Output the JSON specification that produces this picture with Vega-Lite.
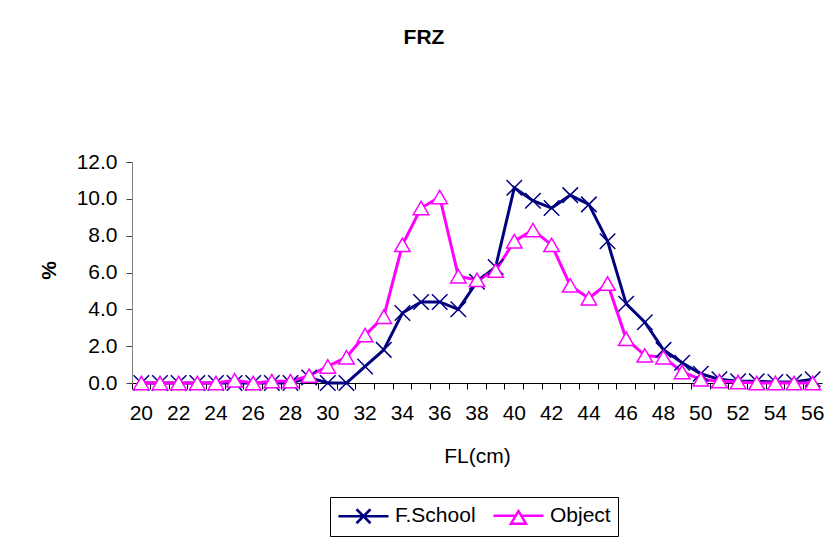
{
  "$schema": "https://vega.github.io/schema/vega-lite/v6.json",
  "width": 690,
  "height": 221,
  "autosize": {"type": "none"},
  "padding": {"left": 132, "top": 162, "right": 4, "bottom": 157},
  "background": "white",
  "title": {
    "text": "FRZ",
    "font": "Liberation Sans",
    "fontSize": 21,
    "fontWeight": "bold",
    "color": "black",
    "frame": "group",
    "anchor": "middle",
    "dx": -53,
    "offset": 86,
    "baseline": "alphabetic"
  },
  "config": {"view": {"stroke": null}, "font": "Liberation Sans"},
  "data": {
    "values": [
      {"FL": 20, "series": "F.School", "pct": 0.0}, {"FL": 20, "series": "Object", "pct": 0.0},
      {"FL": 21, "series": "F.School", "pct": 0.0}, {"FL": 21, "series": "Object", "pct": 0.0},
      {"FL": 22, "series": "F.School", "pct": 0.0}, {"FL": 22, "series": "Object", "pct": 0.0},
      {"FL": 23, "series": "F.School", "pct": 0.0}, {"FL": 23, "series": "Object", "pct": 0.0},
      {"FL": 24, "series": "F.School", "pct": 0.0}, {"FL": 24, "series": "Object", "pct": 0.0},
      {"FL": 25, "series": "F.School", "pct": 0.0}, {"FL": 25, "series": "Object", "pct": 0.15},
      {"FL": 26, "series": "F.School", "pct": 0.0}, {"FL": 26, "series": "Object", "pct": 0.0},
      {"FL": 27, "series": "F.School", "pct": 0.0}, {"FL": 27, "series": "Object", "pct": 0.1},
      {"FL": 28, "series": "F.School", "pct": 0.0}, {"FL": 28, "series": "Object", "pct": 0.1},
      {"FL": 29, "series": "F.School", "pct": 0.3}, {"FL": 29, "series": "Object", "pct": 0.4},
      {"FL": 30, "series": "F.School", "pct": 0.0}, {"FL": 30, "series": "Object", "pct": 0.9},
      {"FL": 31, "series": "F.School", "pct": 0.0}, {"FL": 31, "series": "Object", "pct": 1.4},
      {"FL": 32, "series": "F.School", "pct": 0.9}, {"FL": 32, "series": "Object", "pct": 2.6},
      {"FL": 33, "series": "F.School", "pct": 1.8}, {"FL": 33, "series": "Object", "pct": 3.6},
      {"FL": 34, "series": "F.School", "pct": 3.8}, {"FL": 34, "series": "Object", "pct": 7.5},
      {"FL": 35, "series": "F.School", "pct": 4.4}, {"FL": 35, "series": "Object", "pct": 9.5},
      {"FL": 36, "series": "F.School", "pct": 4.4}, {"FL": 36, "series": "Object", "pct": 10.1},
      {"FL": 37, "series": "F.School", "pct": 4.0}, {"FL": 37, "series": "Object", "pct": 5.8},
      {"FL": 38, "series": "F.School", "pct": 5.5}, {"FL": 38, "series": "Object", "pct": 5.6},
      {"FL": 39, "series": "F.School", "pct": 6.3}, {"FL": 39, "series": "Object", "pct": 6.1},
      {"FL": 40, "series": "F.School", "pct": 10.6}, {"FL": 40, "series": "Object", "pct": 7.7},
      {"FL": 41, "series": "F.School", "pct": 9.9}, {"FL": 41, "series": "Object", "pct": 8.3},
      {"FL": 42, "series": "F.School", "pct": 9.5}, {"FL": 42, "series": "Object", "pct": 7.5},
      {"FL": 43, "series": "F.School", "pct": 10.2}, {"FL": 43, "series": "Object", "pct": 5.3},
      {"FL": 44, "series": "F.School", "pct": 9.7}, {"FL": 44, "series": "Object", "pct": 4.6},
      {"FL": 45, "series": "F.School", "pct": 7.7}, {"FL": 45, "series": "Object", "pct": 5.4},
      {"FL": 46, "series": "F.School", "pct": 4.3}, {"FL": 46, "series": "Object", "pct": 2.4},
      {"FL": 47, "series": "F.School", "pct": 3.3}, {"FL": 47, "series": "Object", "pct": 1.5},
      {"FL": 48, "series": "F.School", "pct": 1.8}, {"FL": 48, "series": "Object", "pct": 1.4},
      {"FL": 49, "series": "F.School", "pct": 1.1}, {"FL": 49, "series": "Object", "pct": 0.6},
      {"FL": 50, "series": "F.School", "pct": 0.5}, {"FL": 50, "series": "Object", "pct": 0.2},
      {"FL": 51, "series": "F.School", "pct": 0.2}, {"FL": 51, "series": "Object", "pct": 0.1},
      {"FL": 52, "series": "F.School", "pct": 0.1}, {"FL": 52, "series": "Object", "pct": 0.05},
      {"FL": 53, "series": "F.School", "pct": 0.1}, {"FL": 53, "series": "Object", "pct": 0.0},
      {"FL": 54, "series": "F.School", "pct": 0.05}, {"FL": 54, "series": "Object", "pct": 0.0},
      {"FL": 55, "series": "F.School", "pct": 0.05}, {"FL": 55, "series": "Object", "pct": 0.0},
      {"FL": 56, "series": "F.School", "pct": 0.2}, {"FL": 56, "series": "Object", "pct": 0.0}
    ]
  },
  "encoding": {
    "x": {
      "field": "FL",
      "type": "ordinal",
      "scale": {"type": "band", "paddingInner": 0, "paddingOuter": 0},
      "axis": {
        "title": "FL(cm)",
        "labelAngle": 0,
        "bandPosition": 0,
        "labelDx": 9.32,
        "labelExpr": "datum.value % 2 == 0 ? datum.label : ''",
        "labelOverlap": false,
        "labelFont": "Liberation Sans",
        "labelFontSize": 21,
        "labelColor": "black",
        "labelPadding": 13,
        "tickSize": 6,
        "tickColor": "black",
        "domainColor": "black",
        "grid": false,
        "titleFont": "Liberation Sans",
        "titleFontSize": 21,
        "titleFontWeight": "normal",
        "titleColor": "black",
        "titleY": 79,
        "titleBaseline": "alphabetic"
      }
    },
    "y": {
      "field": "pct",
      "type": "quantitative",
      "scale": {"domain": [0, 12], "nice": false},
      "axis": {
        "title": "%",
        "values": [0, 2, 4, 6, 8, 10, 12],
        "format": ".1f",
        "labelFont": "Liberation Sans",
        "labelFontSize": 21,
        "labelColor": "black",
        "labelPadding": 9,
        "tickSize": 6,
        "tickColor": "#404040",
        "domainColor": "#808080",
        "grid": false,
        "titleFont": "Liberation Sans",
        "titleFontSize": 21,
        "titleFontWeight": "bold",
        "titleColor": "black",
        "titleAngle": -90,
        "titleX": -83,
        "titleY": 108,
        "titleAlign": "center",
        "titleBaseline": "middle"
      }
    },
    "color": {
      "field": "series",
      "type": "nominal",
      "scale": {"domain": ["F.School", "Object"], "range": ["#000080", "#FF00FF"]},
      "legend": {
        "title": null,
        "orient": "none",
        "legendX": 198,
        "legendY": 335,
        "direction": "horizontal",
        "strokeColor": "black",
        "padding": 7,
        "symbolSize": 400,
        "symbolStrokeWidth": 2.5,
        "symbolOpacity": 1,
        "labelFont": "Liberation Sans",
        "labelFontSize": 21,
        "labelColor": "black",
        "labelOffset": 35,
        "labelLimit": 0,
        "columnPadding": 12
      }
    }
  },
  "layer": [
    {
      "mark": {"type": "line", "strokeWidth": 3}
    },
    {
      "transform": [{"filter": "datum.series === 'F.School'"}],
      "mark": {"type": "point", "filled": false, "strokeWidth": 1.5, "opacity": 1, "size": 240, "shape": "M-1,-1L1,1M1,-1L-1,1"}
    },
    {
      "transform": [{"filter": "datum.series === 'Object'"}],
      "mark": {"type": "point", "filled": false, "fill": "white", "strokeWidth": 1.5, "opacity": 1, "size": 240, "shape": "M0,-0.866L-1,0.866L1,0.866Z"}
    },
    {
      "mark": {"type": "point", "filled": false, "strokeWidth": 2.5, "opacity": 1, "size": 0},
      "encoding": {
        "shape": {
          "field": "series",
          "type": "nominal",
          "scale": {
            "domain": ["F.School", "Object"],
            "range": [
              "M-1,0L4,0M0.8,-0.7L2.2,0.7M2.2,-0.7L0.8,0.7",
              "M-1,0L1.22,0M1.78,0L4,0M1.5,-0.47L0.75,0.78L2.25,0.78Z"
            ]
          }
        }
      }
    }
  ]
}
